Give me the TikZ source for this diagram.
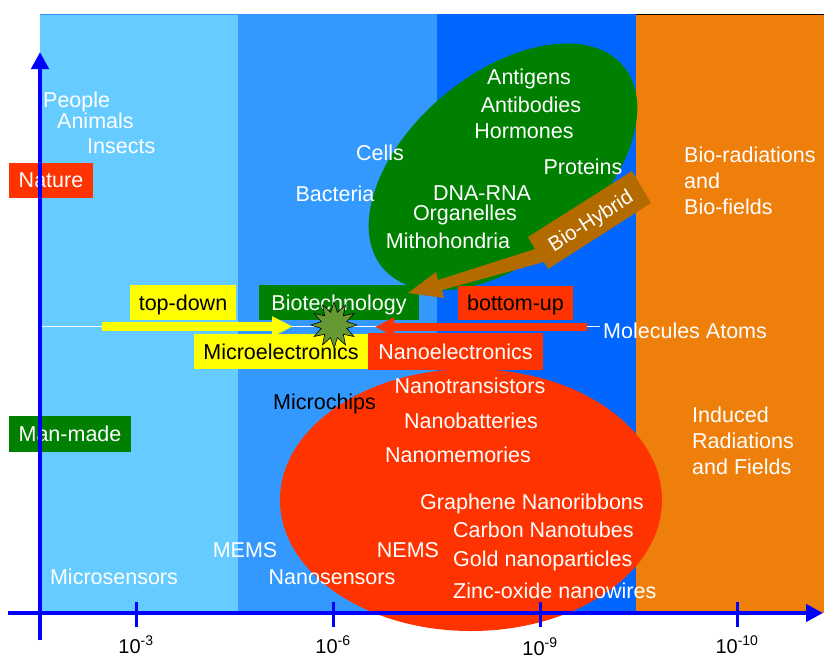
\documentclass[tikz,border=0pt]{standalone}
\usepackage{fontspec}
\setmainfont{Liberation Sans}
\usetikzlibrary{shapes.geometric,arrows.meta}
\definecolor{cLight}{HTML}{66CCFF}
\definecolor{cMid}{HTML}{3399FF}
\definecolor{cBlue}{HTML}{0066FF}
\definecolor{cOrange}{RGB}{238,127,11}
\definecolor{cGreen}{RGB}{0,128,0}
\definecolor{cRed}{HTML}{FF3300}
\definecolor{cYellow}{HTML}{FFFF00}
\definecolor{cBrown}{RGB}{179,107,0}
\definecolor{cAxis}{HTML}{0000FF}
\definecolor{cStar}{RGB}{102,153,51}
\begin{document}
\begin{tikzpicture}[x=1pt,y=-1pt,
  lbl/.style={text=white, font=\fontsize{21.5}{24}\selectfont, inner sep=0pt, text height=15.5pt, text depth=0pt},
  lblw/.style={lbl, anchor=west},
  boxed/.style={lbl, minimum height=35pt},
  axisline/.style={draw=cAxis, line width=4.5pt},
  tick/.style={draw=cAxis, line width=3pt},
  ticklbl/.style={text=black, font=\fontsize{20}{22}\selectfont, inner sep=0pt, text height=14pt, text depth=0pt}
]
\useasboundingbox (0,0) rectangle (824,659);
% columns
\fill[cLight] (40,14) rectangle (238,613);
\fill[cMid] (238,14) rectangle (437,613);
\fill[cBlue] (437,14) rectangle (636,613);
\fill[cOrange] (636,14) rectangle (824,613);
\draw[cMid, line width=0.8pt] (40,14.4) -- (238,14.4);
\draw[black, line width=0.8pt] (636,14.4) -- (824,14.4);
% white level line
\coordinate (wl1) at (40,326.5);
\coordinate (wl2) at (600,326.5);
\draw[white, line width=1pt] (wl1) -- (wl2);
% ellipses
\node[ellipse, fill=cGreen, inner sep=0pt, minimum width=314pt, minimum height=186pt, rotate=40] (gell) at (503,167) {};
\node[ellipse, fill=cRed, inner sep=0pt, minimum width=382pt, minimum height=262pt] (rell) at (471,500) {};
% nature texts
\node[lblw] (people) at (43,100) {People};
\node[lblw] (animals) at (57,121) {Animals};
\node[lblw] (insects) at (87,146) {Insects};
\node[lbl] (cells) at (380,153) {Cells};
\node[lbl] (bacteria) at (335,194) {Bacteria};
\node[lbl] (antigens) at (529,77) {Antigens};
\node[lbl] (antibodies) at (531,105) {Antibodies};
\node[lbl] (hormones) at (524,131) {Hormones};
\node[lbl] (proteins) at (583,167) {Proteins};
\node[lbl] (dna) at (482,193) {DNA-RNA};
\node[lbl] (organelles) at (465,213) {Organelles};
\node[lbl] (mito) at (448,241) {Mithohondria};
\node[lblw] (bior) at (684,155) {Bio-radiations};
\node[lblw] (bioand) at (684,181) {and};
\node[lblw] (biof) at (684,207) {Bio-fields};
\node[lblw] (ind1) at (692,415) {Induced};
\node[lblw] (ind2) at (692,441) {Radiations};
\node[lblw] (ind3) at (692,467) {and Fields};
\node[lblw] (molatoms) at (603,331) {Molecules Atoms};
% man-made texts
\node[lblw, text=black] (microchips) at (273,402) {Microchips};
\node[lbl] (ntrans) at (470,386) {Nanotransistors};
\node[lbl] (nbatt) at (471,421) {Nanobatteries};
\node[lbl] (nmem) at (458,455) {Nanomemories};
\node[lbl] (graph) at (532,502) {Graphene Nanoribbons};
\node[lblw] (carbon) at (453,530) {Carbon Nanotubes};
\node[lblw] (gold) at (453,559) {Gold nanoparticles};
\node[lblw] (zinc) at (453,591) {Zinc-oxide nanowires};
\node[lbl] (nems) at (408,550) {NEMS};
\node[lbl] (mems) at (245,550) {MEMS};
\node[lbl] (nanosens) at (332,577) {Nanosensors};
\node[lbl] (microsens) at (114,577) {Microsensors};
% boxes
\node[boxed, fill=cRed, minimum width=84pt] (nature) at (51,180) {Nature};
\node[boxed, fill=cGreen, minimum width=122pt, minimum height=36pt] (manmade) at (70,434) {Man-made};
\node[boxed, fill=cYellow, text=black, minimum width=106pt] (topdown) at (183,302.5) {top-down};
\node[boxed, fill=cGreen, minimum width=160pt] (biotech) at (339,302.5) {Biotechnology};
\node[boxed, fill=cRed, text=black, minimum width=115pt, minimum height=34pt] (bottomup) at (515.5,302.5) {bottom-up};
\node[boxed, fill=cYellow, text=black, minimum width=174pt] (microel) at (281,351.5) {Microelectronics};
\node[boxed, fill=cRed, minimum width=175pt, minimum height=37pt] (nanoel) at (455.5,351.5) {Nanoelectronics};
% top-down / bottom-up arrows
\coordinate (ya) at (102,326.5);
\coordinate (yb) at (293,326.5);
\draw[cYellow, line width=9pt, -{Triangle[width=19pt,length=21pt]}] (ya) -- (yb);
\coordinate (ra) at (587,327);
\coordinate (rb) at (375,327);
\draw[cRed, line width=8pt, -{Triangle[width=18pt,length=19pt]}] (ra) -- (rb);
% star
\node[star, star points=12, star point ratio=1.75, minimum size=46pt, inner sep=0pt, fill=cStar, draw=black, line width=0.6pt] (bang) at (334,325) {};
% bio-hybrid arrow
\fill[cBrown] (408,293) -- (436,272) -- (438,280) -- (535,249) -- (528,237) -- (632,171) -- (651,203) -- (548,269) -- (544,262) -- (442,290) -- (444,298) -- cycle;
\node[lbl, rotate=32.5, font=\fontsize{20.5}{24}\selectfont] (biohybrid) at (590,220) {Bio-Hybrid};
% axes
\coordinate (yo) at (40,640);
\coordinate (yt) at (40,52);
\coordinate (xo) at (8,613);
\coordinate (xt) at (823,613);
\draw[axisline, -{Triangle[width=17pt,length=17pt]}] (yo) -- (yt);
\draw[axisline, -{Triangle[width=17pt,length=17pt]}] (xo) -- (xt);
\foreach \x/\e/\yy in {136/-3/646, 333/-6/646, 540/-9/648, 737/-10/646}{
  \draw[tick] (\x,602) -- (\x,627);
  \node[ticklbl] (t\x) at (\x,\yy) {10\textsuperscript{\e}};
}
\end{tikzpicture}
\end{document}
